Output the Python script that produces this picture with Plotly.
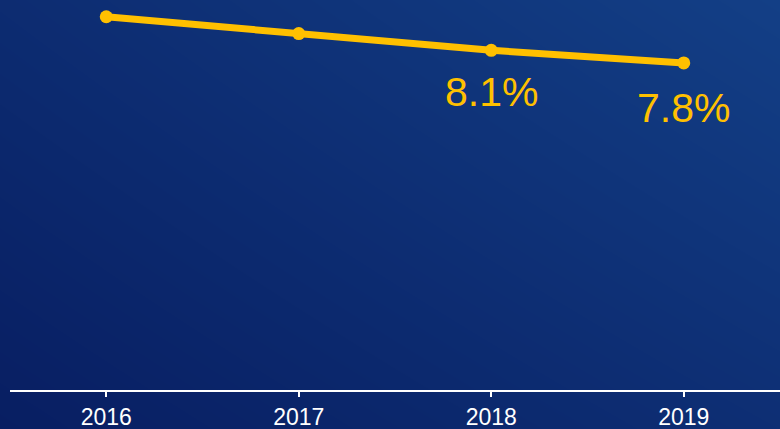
import plotly.graph_objects as go

years = [2016, 2017, 2018, 2019]
rates = [8.9, 8.5, 8.1, 7.8]
point_labels = ["", "", "8.1%", "7.8%"]
tick_labels = ["2016", "2017", "2018", "2019"]

W, H = 780, 429
FONT = "Liberation Sans, Arial, sans-serif"
label_shift = [-42, -42, -42, -45]

fig = go.Figure()

# diagonal gradient background (bottom-left dark -> top-right lighter)
fig.add_trace(go.Heatmap(
    x=[0, 1], y=[0, 1], z=[[0.0, 0.5], [0.42, 1.0]],
    zsmooth="best", showscale=False, hoverinfo="skip",
    colorscale=[[0, "#081e62"], [1, "#133f86"]],
    xaxis="x", yaxis="y",
))

fig.add_trace(go.Scatter(
    x=years, y=rates, mode="lines+markers",
    line=dict(color="#FFC000", width=7),
    marker=dict(color="#FFC000", size=13),
    xaxis="x2", yaxis="y2", cliponaxis=False,
))

for xv, yv, lab, sh in zip(years, rates, point_labels, label_shift):
    if lab:
        fig.add_annotation(
            x=xv, y=yv, xref="x2", yref="y2", text=lab, showarrow=False,
            yshift=sh, font=dict(family=FONT, size=41, color="#FFC000"),
        )

fig.update_layout(
    width=W, height=H,
    margin=dict(l=0, r=0, t=0, b=0),
    paper_bgcolor="#0a2466",
    plot_bgcolor="rgba(0,0,0,0)",
    showlegend=False,
    xaxis=dict(domain=[0, 1], range=[0, 1], visible=False, fixedrange=True),
    yaxis=dict(domain=[0, 1], range=[0, 1], visible=False, fixedrange=True),
    xaxis2=dict(
        domain=[10 / W, 1], anchor="y2",
        range=[2015.5, 2019.5],
        tickmode="array", tickvals=years, ticktext=tick_labels,
        showline=True, linecolor="white", linewidth=2,
        ticks="outside", tickcolor="white", ticklen=5, tickwidth=2,
        showgrid=False, zeroline=False,
        tickfont=dict(family=FONT, size=23, color="white"),
    ),
    yaxis2=dict(
        domain=[39 / H, 1], anchor="x2",
        range=[0, 9.3], visible=False, showgrid=False, zeroline=False,
    ),
)

fig.write_html(
    "out.html",
    config={"displayModeBar": False},
    post_script="document.body.style.margin='0';document.body.style.overflow='hidden';",
)
